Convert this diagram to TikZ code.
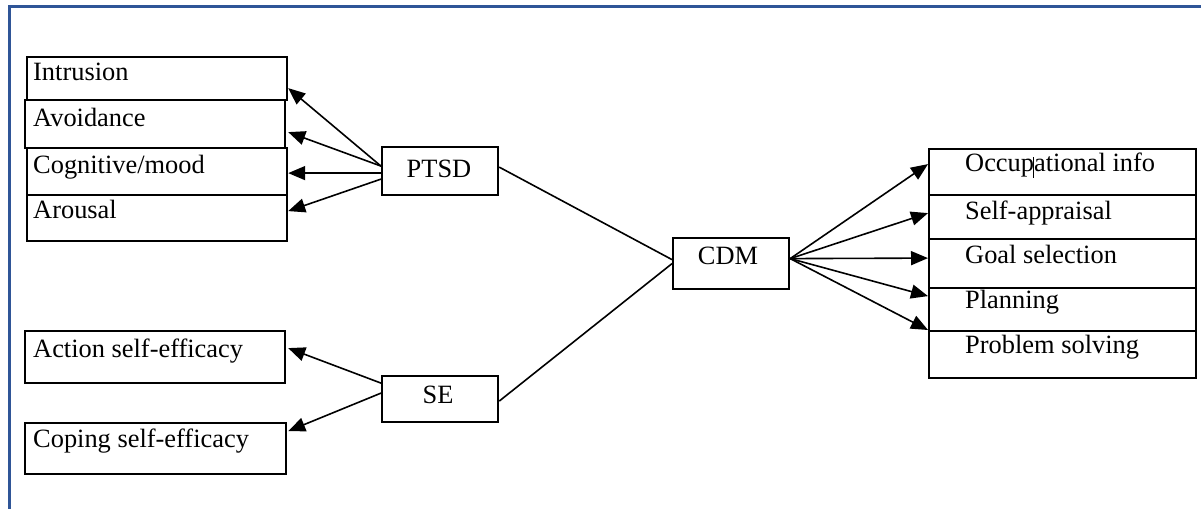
\documentclass[tikz,border=0pt]{standalone}
\usepackage{fontspec}
\setmainfont{Liberation Serif}
\usetikzlibrary{arrows.meta,calc}
\definecolor{frameblue}{RGB}{47,85,151}
\begin{document}
\begin{tikzpicture}[x=1pt,y=-1pt,
  box/.style={draw, line width=2.2pt, rectangle, inner sep=0pt, anchor=north west},
  txt/.style={anchor=base west, inner sep=0pt, font=\fontsize{26.4}{30}\selectfont},
  ctxt/.style={anchor=base, inner sep=0pt, font=\fontsize{26.4}{30}\selectfont},
  conn/.style={line width=1.6pt},
  arr/.style={conn, -{Triangle[length=17pt,width=14pt]}}]
\useasboundingbox (0,0) rectangle (1201,509);
% frame
\draw[frameblue, line width=3pt] (1201,6.5) -- (9,6.5) -- (9,509);
% PTSD group
\node[box, minimum width=260pt, minimum height=43pt] (intr) at (26,56) {};
\node[box, minimum width=260pt, minimum height=48pt] (avoid) at (24,99) {};
\node[box, minimum width=260pt, minimum height=47pt] (cogn) at (26,147) {};
\node[box, minimum width=260pt, minimum height=46pt] (arou) at (26,194) {};
\node[txt] (intrT) at (33,80) {Intrusion};
\node[txt] (avoidT) at (33,126) {Avoidance};
\node[txt] (cognT) at (33,173) {Cognitive/mood};
\node[txt] (arouT) at (33,218) {Arousal};
\node[box, minimum width=116pt, minimum height=48pt] (ptsd) at (381,146) {};
\node[ctxt] (ptsdT) at (439,177) {PTSD};
% SE group
\node[box, minimum width=260pt, minimum height=52pt] (act) at (24,330) {};
\node[box, minimum width=261pt, minimum height=51pt] (cope) at (24,422) {};
\node[txt] (actT) at (33,357) {Action self-efficacy};
\node[txt] (copeT) at (33,447) {Coping self-efficacy};
\node[box, minimum width=116pt, minimum height=46pt] (se) at (381,375) {};
\node[ctxt] (seT) at (438,403) {SE};
% CDM
\node[box, minimum width=116pt, minimum height=51pt] (cdm) at (672,237) {};
\node[ctxt] (cdmT) at (728,264) {CDM};
% right group
\node[box, minimum width=267pt, minimum height=46pt] (occ) at (928,148) {};
\node[box, minimum width=267pt, minimum height=44pt] (selfa) at (928,194) {};
\node[box, minimum width=267pt, minimum height=49pt] (goal) at (928,238) {};
\node[box, minimum width=267pt, minimum height=43pt] (plan) at (928,287) {};
\node[box, minimum width=267pt, minimum height=47pt] (prob) at (928,330) {};
\node[txt] (occT) at (965,171) {Occupational info};
\node[txt] (selfaT) at (965,219) {Self-appraisal};
\node[txt] (goalT) at (965,263) {Goal selection};
\node[txt] (planT) at (965,308) {Planning};
\node[txt] (probT) at (965,353) {Problem solving};
\coordinate (cursorTop) at (1033,157);
\coordinate (cursorBot) at (1033,178);
\draw[line width=0.8pt] (cursorTop) -- (cursorBot);
% connectors PTSD
\draw[arr] ($(ptsd.west)+(0,-5)$) -- ($(intr.east)+(0,9.5)$);
\draw[arr] ($(ptsd.west)+(0,-5)$) -- ($(avoid.east)+(2,8)$);
\draw[arr] ($(ptsd.west)+(0,2)$) -- ($(cogn.east)+(0,1.5)$);
\draw[arr] ($(ptsd.west)+(0,8)$) -- ($(arou.east)+(0,-7)$);
% connectors SE
\draw[arr] ($(se.west)+(0,-16)$) -- ($(act.east)+(2,-9)$);
\draw[arr] ($(se.west)+(0,-6)$) -- ($(cope.east)+(1,-17.5)$);
% to CDM
\draw[conn] ($(ptsd.east)+(0,-4)$) -- ($(cdm.west)+(0,-4)$);
\draw[conn] ($(se.east)+(0,2)$) -- (cdm.west);
% CDM to right
\draw[arr] ($(cdm.east)+(0,-5)$) -- ($(occ.west)+(0,-8)$);
\draw[arr] ($(cdm.east)+(0,-5)$) -- ($(selfa.west)+(0,-4)$);
\draw[arr] ($(cdm.east)+(0,-5)$) -- ($(goal.west)+(0,-5.5)$);
\draw[arr] ($(cdm.east)+(0,-5)$) -- ($(plan.west)+(0,-13.5)$);
\draw[arr] ($(cdm.east)+(0,-5)$) -- (prob.north west);
\end{tikzpicture}
\end{document}
